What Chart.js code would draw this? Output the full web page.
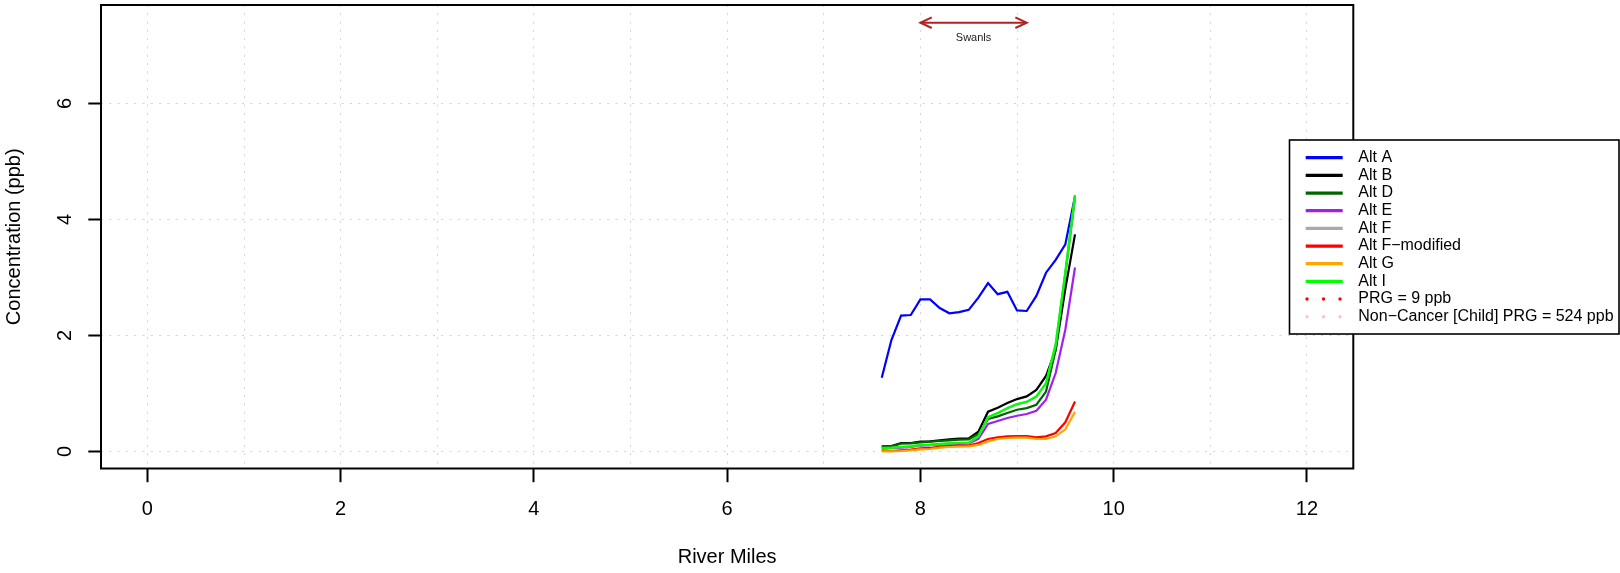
<!DOCTYPE html>
<html><head><meta charset="utf-8">
<script src="https://cdn.jsdelivr.net/npm/chart.js@4.4.1/dist/chart.umd.min.js"></script>
<style>html,body{margin:0;padding:0;background:#fff;overflow:hidden}canvas{display:block}</style>
</head><body>
<canvas id="c" width="1620" height="573" style="width:1620px;height:573px"></canvas>
<script>
// ---- data ----
const riverMiles = [7.6,7.7,7.8,7.9,8.0,8.1,8.2,8.3,8.4,8.5,8.6,8.7,8.8,8.9,9.0,9.1,9.2,9.3,9.4,9.5,9.6];
const altA  = [1.27,1.92,2.34,2.35,2.62,2.62,2.47,2.38,2.40,2.44,2.65,2.90,2.71,2.75,2.43,2.42,2.68,3.08,3.30,3.57,4.40];
const altB  = [0.086,0.092,0.144,0.144,0.167,0.172,0.19,0.207,0.218,0.224,0.339,0.683,0.752,0.832,0.901,0.947,1.06,1.30,1.75,2.80,3.74];
const altD  = [0.086,0.086,0.132,0.138,0.155,0.167,0.178,0.19,0.201,0.207,0.299,0.557,0.603,0.66,0.717,0.746,0.803,1.03,1.75,3.05,4.38];
const altE  = [0.05,0.055,0.065,0.075,0.10,0.105,0.115,0.125,0.13,0.135,0.213,0.471,0.522,0.574,0.614,0.643,0.70,0.89,1.35,2.10,3.17];
const altF  = [0.056,0.062,0.073,0.084,0.108,0.113,0.125,0.136,0.142,0.147,0.255,0.585,0.655,0.74,0.81,0.85,0.94,1.17,1.84,3.08,4.40];
const altFm = [0.012,0.006,0.018,0.029,0.052,0.058,0.081,0.092,0.098,0.098,0.144,0.213,0.241,0.259,0.264,0.264,0.241,0.259,0.316,0.50,0.86];
const altG  = [0.0,0.0,0.006,0.018,0.035,0.04,0.064,0.075,0.081,0.086,0.11,0.172,0.213,0.23,0.236,0.236,0.213,0.213,0.259,0.38,0.68];
const altI  = [0.058,0.064,0.075,0.086,0.11,0.115,0.127,0.138,0.144,0.149,0.259,0.591,0.66,0.746,0.815,0.855,0.947,1.176,1.85,3.10,4.42];
const prgValue = 9;
const nonCancerPrgValue = 524;
const seriesLabels = ['Alt A','Alt B','Alt D','Alt E','Alt F','Alt F\u2212modified','Alt G','Alt I','PRG = 9 ppb','Non\u2212Cancer [Child] PRG = 524 ppb'];
const xLimits = [-0.48, 12.48];
const yLimits = [-0.296, 7.696];
const xGridValues = [0,1,2,3,4,5,6,7,8,9,10,11,12];
const xTickLabels = [0,2,4,6,8,10,12];
const yTickValues = [0,2,4,6];
const swanlsRange = [8.0, 9.1];
const swanlsArrowY = 7.39;
const swanlsTextY = 7.12;
const swanlsLabel = 'Swanls';

// ---- styling ----
const colors = ['#0000FF','#000000','#006400','#A020F0','#A9A9A9','#FF0000','#FFA500','#00FF00','#FF0000','#FFC0CB'];
const FONT = "'Liberation Sans', Arial, Helvetica, sans-serif";

function pts(ys){ return riverMiles.map((x,i)=>({x:x, y:ys[i]})); }
function hline(v){ return [{x:xLimits[0], y:v},{x:xLimits[1], y:v}]; }

const seriesData = [altA, altB, altD, altE, altF, altFm, altG, altI];
const datasets = seriesData.map((ys,i)=>({
  label: seriesLabels[i], data: pts(ys), borderColor: colors[i], backgroundColor: colors[i],
  borderWidth: 2.2, pointRadius: 0, tension: 0, fill: false, order: 20 - i
}));
datasets.push({label: seriesLabels[8], data: hline(prgValue), borderColor: colors[8], borderWidth: 3, borderDash:[2,6], pointRadius:0, order: 5, dotted:true});
datasets.push({label: seriesLabels[9], data: hline(nonCancerPrgValue), borderColor: colors[9], borderWidth: 3, borderDash:[2,6], pointRadius:0, order: 4, dotted:true});

const overlay = {
  id: 'overlay',
  afterDraw(chart){
    const ctx = chart.ctx, a = chart.chartArea, xs = chart.scales.x, ys = chart.scales.y;
    ctx.save();
    // plot box
    ctx.strokeStyle = '#000'; ctx.lineWidth = 2;
    ctx.strokeRect(a.left, a.top, a.right - a.left, a.bottom - a.top);
    // Swanls arrow
    const x1 = xs.getPixelForValue(swanlsRange[0]), x2 = xs.getPixelForValue(swanlsRange[1]);
    const y = ys.getPixelForValue(swanlsArrowY);
    ctx.strokeStyle = '#B22222'; ctx.lineWidth = 2; ctx.lineCap = 'butt';
    ctx.beginPath(); ctx.moveTo(x1, y); ctx.lineTo(x2, y); ctx.stroke();
    const L = 12.5, ang = 25 * Math.PI / 180;
    ctx.beginPath();
    ctx.moveTo(x1 + L*Math.cos(ang), y - L*Math.sin(ang)); ctx.lineTo(x1, y); ctx.lineTo(x1 + L*Math.cos(ang), y + L*Math.sin(ang));
    ctx.moveTo(x2 - L*Math.cos(ang), y - L*Math.sin(ang)); ctx.lineTo(x2, y); ctx.lineTo(x2 - L*Math.cos(ang), y + L*Math.sin(ang));
    ctx.stroke();
    ctx.fillStyle = '#222'; ctx.font = '11px ' + FONT; ctx.textAlign = 'center'; ctx.textBaseline = 'middle';
    ctx.fillText(swanlsLabel, xs.getPixelForValue((swanlsRange[0]+swanlsRange[1])/2), ys.getPixelForValue(swanlsTextY));
    // legend
    const bx = 1289.5, by = 140, bw = 1619 - 1289.5, bh = 334 - 140;
    ctx.fillStyle = '#fff'; ctx.fillRect(bx, by, bw, bh);
    ctx.strokeStyle = '#000'; ctx.lineWidth = 1.6; ctx.strokeRect(bx, by, bw, bh);
    ctx.font = '16px ' + FONT; ctx.textAlign = 'left'; ctx.textBaseline = 'middle';
    chart.data.datasets.forEach((ds, i) => {
      const ry = 157.7 + 17.67 * i;
      if (ds.dotted) {
        ctx.fillStyle = ds.borderColor;
        [1307, 1323.5, 1340].forEach(cx => { ctx.beginPath(); ctx.arc(cx, ry, 1.7, 0, 2*Math.PI); ctx.fill(); });
      } else {
        ctx.strokeStyle = ds.borderColor; ctx.lineWidth = 3.3; ctx.lineCap = 'butt';
        ctx.beginPath(); ctx.moveTo(1305.7, ry); ctx.lineTo(1342.7, ry); ctx.stroke();
      }
      ctx.fillStyle = '#000';
      ctx.fillText(ds.label, 1358.3, ry);
    });
    ctx.restore();
  }
};

new Chart(document.getElementById('c'), {
  type: 'line',
  data: { datasets },
  options: {
    responsive: false, animation: false, devicePixelRatio: 1,
    layout: { padding: { top: 5, right: 266.7, left: 0, bottom: 0 } },
    plugins: { legend: { display: false }, tooltip: { enabled: false } },
    scales: {
      x: {
        type: 'linear', min: xLimits[0], max: xLimits[1],
        afterBuildTicks: s => { s.ticks = xGridValues.map(v => ({value: v})); },
        afterFit: s => { s.height = 104.5; s.paddingLeft = 0; s.paddingRight = 0; },
        ticks: {
          autoSkip: false, maxRotation: 0, minRotation: 0, padding: 15.5, color: '#000',
          font: { family: FONT, size: 20, lineHeight: 1.2 },
          callback: v => xTickLabels.includes(v) ? String(v) : ''
        },
        grid: {
          color: '#D3D3D3', lineWidth: 1, drawTicks: true, tickLength: 13.7, tickWidth: 2,
          tickColor: c => (c.tick && xTickLabels.includes(c.tick.value)) ? '#000' : 'rgba(0,0,0,0)'
        },
        border: { display: false, dash: [2, 6.3] },
        title: { display: true, text: 'River Miles', color: '#000', font: { family: FONT, size: 20, lineHeight: 1.2 }, padding: { top: 0, bottom: 4 } }
      },
      y: {
        type: 'linear', min: yLimits[0], max: yLimits[1],
        afterBuildTicks: s => { s.ticks = yTickValues.map(v => ({value: v})); },
        afterFit: s => { s.width = 101; s.paddingTop = 0; s.paddingBottom = 0; },
        ticks: {
          autoSkip: false, minRotation: 90, maxRotation: 90, crossAlign: 'center', padding: 17.7, color: '#000',
          font: { family: FONT, size: 20, lineHeight: 1.2 },
          callback: v => String(v)
        },
        grid: { color: '#D3D3D3', lineWidth: 1, drawTicks: true, tickLength: 12.7, tickWidth: 2, tickColor: '#000' },
        border: { display: false, dash: [2, 6.3] },
        title: { display: true, text: 'Concentration (ppb)', color: '#000', font: { family: FONT, size: 20, lineHeight: 1.1 }, padding: { top: 3.5, bottom: 0 } }
      }
    }
  },
  plugins: [overlay]
});
</script>
</body></html>
